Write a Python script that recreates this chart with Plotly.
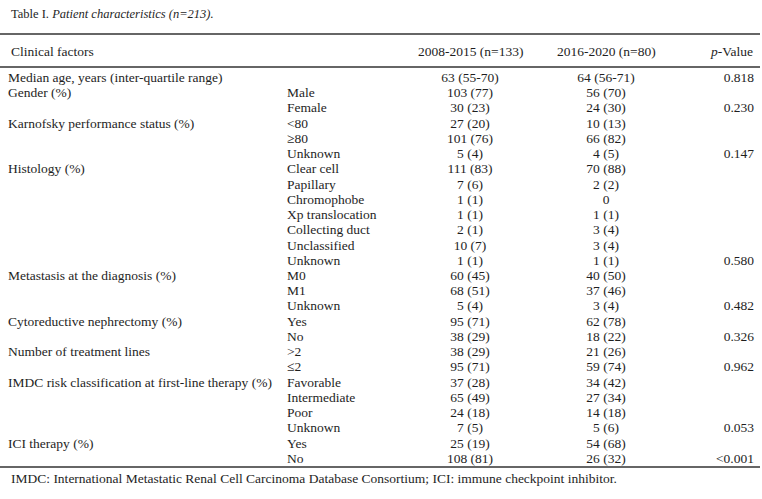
import plotly.graph_objects as go

title_plain = "Table I. "
title_italic = "Patient characteristics (n=213)."
headers = ["Clinical factors", "2008-2015 (n=133)", "2016-2020 (n=80)", "<i>p</i>-Value"]
footnote = "IMDC: International Metastatic Renal Cell Carcinoma Database Consortium; ICI: immune checkpoint inhibitor."

factors = [
    "Median age, years (inter-quartile range)", "Gender (%)", "", "Karnofsky performance status (%)", "", "",
    "Histology (%)", "", "", "", "", "", "",
    "Metastasis at the diagnosis (%)", "", "", "Cytoreductive nephrectomy (%)", "",
    "Number of treatment lines", "", "IMDC risk classification at first-line therapy (%)", "", "", "",
    "ICI therapy (%)", "",
]
subgroups = [
    "", "Male", "Female", "<80", "≥80", "Unknown",
    "Clear cell", "Papillary", "Chromophobe", "Xp translocation", "Collecting duct", "Unclassified", "Unknown",
    "M0", "M1", "Unknown", "Yes", "No", ">2", "≤2",
    "Favorable", "Intermediate", "Poor", "Unknown", "Yes", "No",
]
period_2008_2015 = [
    "63 (55-70)", "103 (77)", "30 (23)", "27 (20)", "101 (76)", "5 (4)",
    "111 (83)", "7 (6)", "1 (1)", "1 (1)", "2 (1)", "10 (7)", "1 (1)",
    "60 (45)", "68 (51)", "5 (4)", "95 (71)", "38 (29)", "38 (29)", "95 (71)",
    "37 (28)", "65 (49)", "24 (18)", "7 (5)", "25 (19)", "108 (81)",
]
period_2016_2020 = [
    "64 (56-71)", "56 (70)", "24 (30)", "10 (13)", "66 (82)", "4 (5)",
    "70 (88)", "2 (2)", "0", "1 (1)", "3 (4)", "3 (4)", "1 (1)",
    "40 (50)", "37 (46)", "3 (4)", "62 (78)", "18 (22)", "21 (26)", "59 (74)",
    "34 (42)", "27 (34)", "14 (18)", "5 (6)", "54 (68)", "26 (32)",
]
p_values = [
    "0.818", "", "0.230", "", "", "0.147",
    "", "", "", "", "", "", "0.580",
    "", "", "0.482", "", "0.326", "", "0.962",
    "", "", "", "0.053", "", "<0.001",
]

# layout geometry (pixels in the 762x499 window)
W, H = 762, 499
ROW0, ROWH = 78.5, 15.24
def row_of(px):
    return (px - ROW0) / ROWH

rows = list(range(len(factors)))
FONT = dict(family="Liberation Serif, Times New Roman, serif", size=13.5, color="#1e1e1e")
TFONT = dict(FONT, size=12.5)

fig = go.Figure()
fig.add_trace(go.Scatter(x=[8] * len(rows), y=rows, text=factors, mode="text",
                         textposition="middle right", textfont=FONT, hoverinfo="skip", cliponaxis=False))
fig.add_trace(go.Scatter(x=[287] * len(rows), y=rows, text=subgroups, mode="text",
                         textposition="middle right", textfont=FONT, hoverinfo="skip", cliponaxis=False))
fig.add_trace(go.Scatter(x=[470] * len(rows), y=rows, text=period_2008_2015, mode="text",
                         textposition="middle center", textfont=FONT, hoverinfo="skip", cliponaxis=False))
fig.add_trace(go.Scatter(x=[606] * len(rows), y=rows, text=period_2016_2020, mode="text",
                         textposition="middle center", textfont=FONT, hoverinfo="skip", cliponaxis=False))
fig.add_trace(go.Scatter(x=[754] * len(rows), y=rows, text=p_values, mode="text",
                         textposition="middle left", textfont=FONT, hoverinfo="skip", cliponaxis=False))

hdr_y = row_of(51)
fig.add_annotation(x=9, y=hdr_y, text=headers[0], xanchor="left", showarrow=False, font=FONT)
fig.add_annotation(x=470, y=hdr_y, text=headers[1], xanchor="center", showarrow=False, font=FONT)
fig.add_annotation(x=606, y=hdr_y, text=headers[2], xanchor="center", showarrow=False, font=FONT)
fig.add_annotation(x=755, y=hdr_y, text=headers[3], xanchor="right", showarrow=False, font=FONT)
fig.add_annotation(x=9, y=row_of(14), text=title_plain + "<i>" + title_italic + "</i>", xanchor="left",
                   showarrow=False, font=TFONT)
fig.add_annotation(x=9, y=row_of(478), text=footnote, xanchor="left", showarrow=False, font=FONT)

for px in [34, 67, 467]:
    fig.add_shape(type="line", x0=0, x1=760 / W, y0=1 - px / H, y1=1 - px / H,
                  xref="paper", yref="paper", layer="above",
                  line=dict(color="#666666", width=2))

fig.update_layout(
    width=W, height=H, margin=dict(l=0, r=0, t=0, b=0),
    paper_bgcolor="white", plot_bgcolor="white", showlegend=False,
    xaxis=dict(range=[0, W], visible=False, fixedrange=True),
    yaxis=dict(range=[row_of(H), row_of(0)], visible=False, fixedrange=True),
)
fig.write_html("out.html", config={"displayModeBar": False},
               post_script="document.body.style.margin='0';")
